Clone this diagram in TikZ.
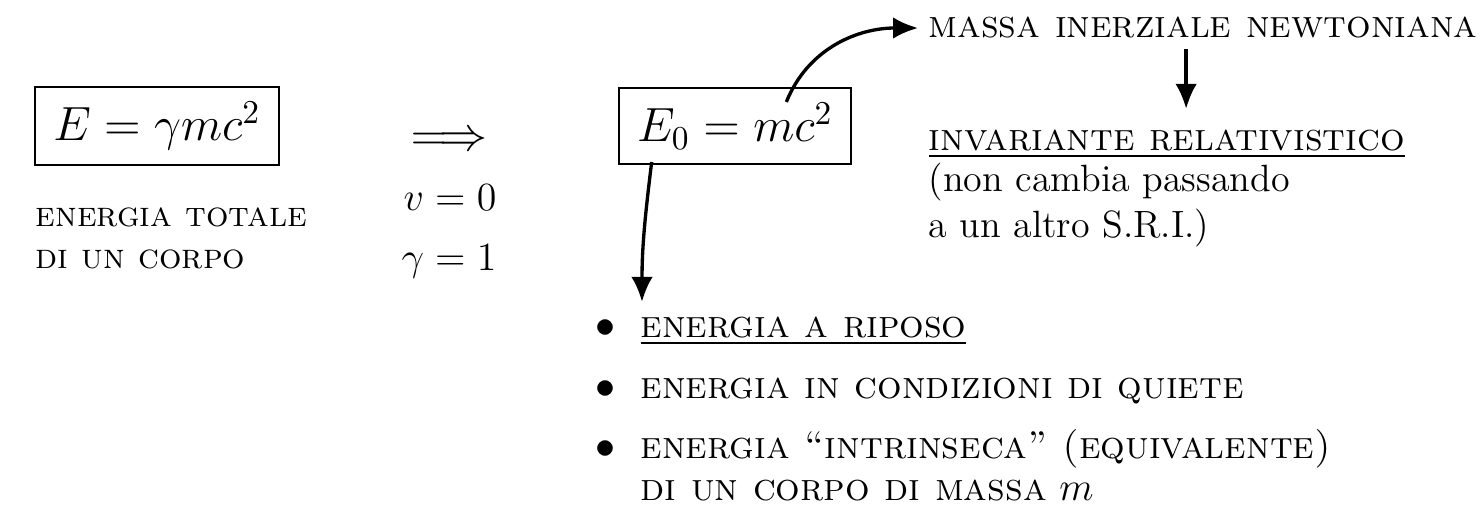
\documentclass[tikz,border=0pt]{standalone}
\usepackage{amsmath,amssymb}
\usepackage{tikz}
\usetikzlibrary{arrows.meta,positioning,calc}

\begin{document}
\begin{tikzpicture}[
  x=0.3pt, y=-0.3pt,
  node distance=4mm and 8mm,
  formula/.style={draw, line width=0.6pt, inner xsep=5.5pt, inner ysep=4.5pt, font=\Large},
  txt/.style={font=\fontsize{11.6}{12.6}\selectfont, align=left, inner sep=0pt},
  bul/.style={txt, anchor=base west},
  ar/.style={-{Latex[length=7.5pt,width=6.5pt]}, line width=1pt},
]
\useasboundingbox (0,0) rectangle (1483,511);
% left: total energy
\node[formula] (tot) at (157,126) {$E=\gamma mc^2$};
\node[txt, font=\fontsize{10.6}{12.6}\selectfont, anchor=base west] (totlbl) at (35,268)
  {\textsc{energia totale}\\ \textsc{di un corpo}};
\node[font=\Large, inner sep=0pt] (impl) at (449,142) {$\Longrightarrow$};
\node[font=\fontsize{12.4}{15}\selectfont, inner sep=0pt] (cond) at (449,230)
  {$\begin{aligned} v&=0\\ \gamma&=1\end{aligned}$};
% rest energy
\node[formula] (rest) at (735,126) {$E_0=mc^2$};
\node[txt, anchor=west] (nt) at (928,28) {\textsc{massa inerziale newtoniana}};
\node[txt, anchor=base west] (inv) at (928,150)
  {\underline{\textsc{invariante relativistico}}};
\node[txt, font=\fontsize{11.4}{13.8}\selectfont, anchor=base west] (note) at (928,237)
  {(non cambia passando\\a un altro S.R.I.)};
% list
\node[bul] (it1) at (640,337) {\underline{\textsc{energia a riposo}}};
\node[bul] (it2) at (640,398) {\textsc{energia in condizioni di quiete}};
\node[bul] (it3) at (640,500)
  {\textsc{energia ``intrinseca'' (equivalente)}\\ \textsc{di un corpo di massa} $m$};
\foreach \i/\y in {it1/337,it2/398,it3/458}
  \node[font=\large, inner sep=0pt, anchor=base] at (605,\y) {$\bullet$};
% arrows
\draw[ar] ([shift={(-66,15)}]rest.north east) to[out=68,in=180] ([xshift=-3pt]nt.west);
\draw[ar] ([shift={(-17,10)}]nt.south) -- ([shift={(-17,-20)}]nt.south |- inv.north);
\draw[ar] ([shift={(34,-3)}]rest.south west) to[out=-97,in=90] ([shift={(2,-14)}]it1.north west);
\end{tikzpicture}
\end{document}
